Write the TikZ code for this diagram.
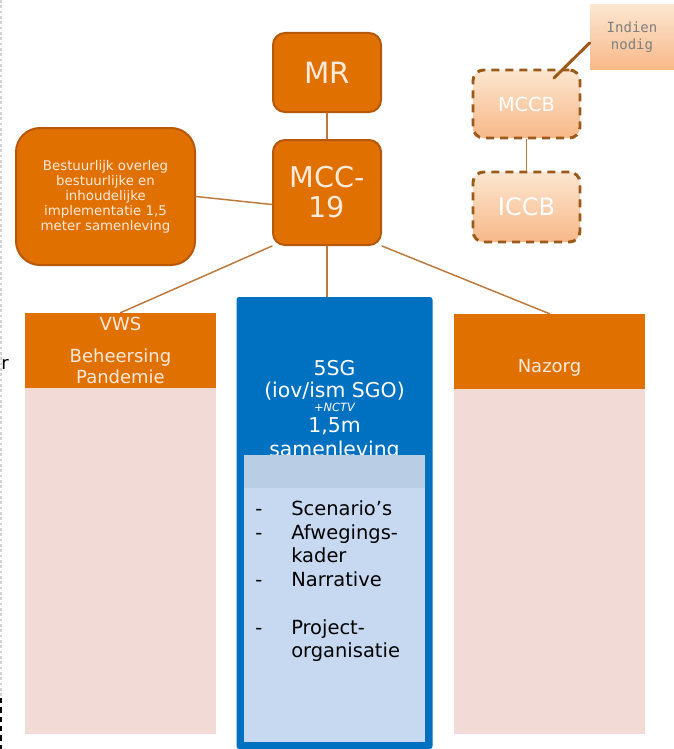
\documentclass[tikz,border=0pt]{standalone}
\usepackage{fontspec}
\setmainfont{DejaVu Sans}
\setmonofont{DejaVu Sans Mono}
\definecolor{eqxqqq}{RGB}{224,112,0}
\definecolor{bwvyqq}{RGB}{182,88,8}
\definecolor{fdeada}{RGB}{253,234,218}
\definecolor{fsdadw}{RGB}{242,218,214}
\definecolor{qqxqcq}{RGB}{0,112,192}
\definecolor{cwdafr}{RGB}{198,217,241}
\definecolor{bzcdeu}{RGB}{185,205,229}
\definecolor{zcvaqq}{RGB}{156,90,26}
\definecolor{cbxeuq}{RGB}{190,120,60}
\definecolor{fceece}{RGB}{252,230,208}
\definecolor{fxbyyz}{RGB}{247,184,136}
\definecolor{ysyzyz}{RGB}{127,127,127}

\begin{document}
\begin{tikzpicture}[line cap=round,line join=round,x=0.75pt,y=-0.75pt,
  orgbox/.style={rectangle,rounded corners=9pt,draw=bwvyqq,line width=1.5pt,fill=eqxqqq,text=fdeada,inner sep=0pt,align=center},
  dashbox/.style={rectangle,rounded corners=8pt,draw=zcvaqq,line width=2.2pt,line cap=butt,dash pattern=on 6pt off 4.5pt,top color=fceece,bottom color=fxbyyz,text=white,inner sep=0pt,minimum width=80.25pt},
  colhead/.style={rectangle,fill=eqxqqq,text=fdeada,inner sep=0pt,minimum width=143.25pt,minimum height=56.25pt,align=center,font=\fontsize{13.5}{15.75}\selectfont},
  colbody/.style={rectangle,fill=fsdadw,inner sep=0pt,minimum width=143.25pt},
  sgtxt/.style={anchor=base,inner sep=0pt,text=white,font=\fontsize{15.3}{17.25}\selectfont},
  link/.style={draw=cbxeuq,line width=1.1pt}]
\useasboundingbox (0,0) rectangle (674,749);

\draw[gray!35,line width=0.8pt,line cap=butt,dash pattern=on 2pt off 2pt] (1,0) -- (1,698);
\draw[black,line width=1.2pt,line cap=butt,dash pattern=on 4pt off 3pt] (1,698) -- (1,749);
\node[anchor=east,inner sep=0pt,font=\fontsize{13.5}{16}\selectfont] (rcut) at (9,364) {r};

\node[orgbox,minimum width=81pt,minimum height=59.25pt,font=\fontsize{22}{26}\selectfont] (mr) at (327,72.5) {MR};
\node[orgbox,minimum width=81pt,minimum height=78.75pt,font=\fontsize{21.5}{22.5}\selectfont] (mcc) at (327,192.5) {MCC-\\19};
\node[orgbox,rounded corners=18pt,minimum width=134.25pt,minimum height=102.75pt,font=\fontsize{10}{11.25}\selectfont] (best) at (105.5,196.5) {Bestuurlijk overleg\\bestuurlijke en\\inhoudelijke\\implementatie 1,5\\meter samenleving};

\node[rectangle,inner sep=0pt,minimum width=63pt,minimum height=48.75pt,top color=fceece,bottom color=fxbyyz,text=ysyzyz,align=center,font=\ttfamily\fontsize{10.5}{12.5}\selectfont] (ind) at (632,37.5) {Indien\\nodig};
\node[dashbox,minimum height=51pt,font=\fontsize{14.5}{16}\selectfont] (mccb) at (526.5,104) {MCCB};
\node[dashbox,minimum height=52.5pt,font=\fontsize{18}{20}\selectfont] (iccb) at (526.5,207) {ICCB};
\coordinate (mccbin) at (554,78);

\node[colbody,minimum height=259.5pt] (vwsbody) at (120.5,561) {};
\node[colhead] (vwshead) at (120.5,350.5) {VWS\\[8pt]Beheersing\\Pandemie};
\node[colbody,minimum height=258.75pt] (nazbody) at (549.5,561.5) {};
\node[colhead] (nazhead) at (549.5,351.5) {};
\node[inner sep=0pt,text=fdeada,font=\fontsize{13.5}{15.75}\selectfont] (naztext) at (549.5,368) {Nazorg};

\node[rectangle,rounded corners=2pt,fill=qqxqcq,inner sep=0pt,minimum width=147pt,minimum height=339pt] (sg) at (334.5,523) {};
\node[sgtxt] (sgname) at (334.5,375) {5SG};
\node[sgtxt] (sgiov) at (334.5,397) {(iov/ism SGO)};
\node[sgtxt,font=\fontsize{8.5}{10}\selectfont\itshape] (sgnctv) at (334.5,411) {+NCTV};
\node[sgtxt] (sgmeter) at (334.5,432) {1,5m};
\node[sgtxt] (sgsamen) at (334.5,456) {samenleving};
\node[rectangle,fill=cwdafr,inner sep=0pt,minimum width=135.75pt,minimum height=215.25pt] (panel) at (334.5,598.5) {};
\node[rectangle,fill=bzcdeu,inner sep=0pt,minimum width=135.75pt,minimum height=24.75pt] (panelhead) at (334.5,471.5) {};
\node[anchor=north west,inner sep=0pt,font=\fontsize{14.6}{17.8}\selectfont] (lst) at (255,498.5) {\begin{tabular}{@{}p{27pt}@{}l@{}}
-&Scenario's\\
-&Afwegings-\\
&kader\\
-&Narrative\\
&\\
-&Project-\\
&organisatie
\end{tabular}};

\draw[link] (mr) -- (mcc);
\draw[link] (best.east) -- ([yshift=-9pt]mcc.west);
\draw[link] (mcc.south west) -- (vwshead.north);
\draw[link] (mcc.south) -- (mcc.south |- sg.north);
\draw[link] (mcc.south east) -- (nazhead.north);
\draw[link] (mccb) -- (iccb);
\draw[draw=zcvaqq,line width=2.2pt] ([yshift=-4pt]ind.west) -- (mccbin);
\end{tikzpicture}
\end{document}
